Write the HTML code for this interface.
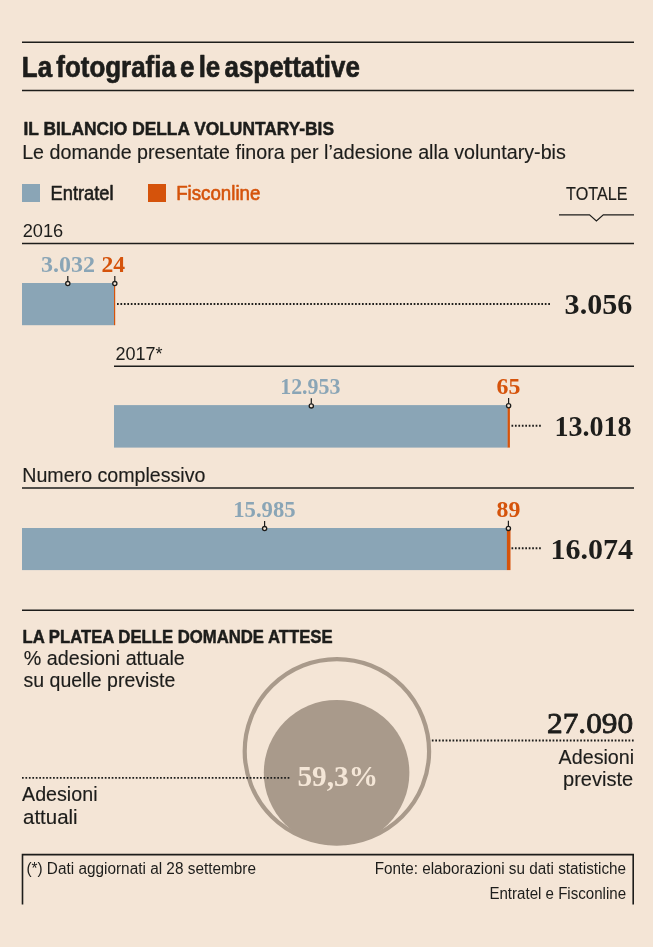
<!DOCTYPE html>
<html lang="it"><head><meta charset="utf-8"><title>La fotografia e le aspettative</title>
<style>
html,body{margin:0;padding:0;background:#f4e5d6;}
body{width:653px;height:947px;overflow:hidden;font-family:"Liberation Sans",sans-serif;}
#wrap{width:653px;height:947px;will-change:transform}
svg{display:block}
text{white-space:pre}
.ln{stroke:#1d1d1b;stroke-width:1.5;fill:none}
.dot{stroke:#1d1d1b;stroke-width:1.9;stroke-dasharray:1.7 1.75;fill:none}
.mk{stroke:#1d1d1b;stroke-width:1.3;fill:#f4e5d6}
</style></head><body>
<div id="wrap">
<svg width="653" height="947" viewBox="0 0 653 947">
<rect x="0" y="0" width="653" height="947" fill="#f4e5d6"/>

<line class="ln" x1="22" y1="42.3" x2="634" y2="42.3"/>
<line class="ln" x1="22" y1="90.5" x2="634" y2="90.5"/>
<line class="ln" x1="22" y1="243.6" x2="634" y2="243.6"/>
<line class="ln" x1="114" y1="366.3" x2="634" y2="366.3"/>
<line class="ln" x1="22" y1="488.1" x2="634" y2="488.1"/>
<line class="ln" x1="22" y1="610.2" x2="634" y2="610.2"/>
<path class="ln" style="stroke-width:1.2" d="M559 214.9 H589.5 L596.4 221 L603.3 214.9 H634"/>
<rect x="22" y="184" width="18" height="18" fill="#8aa5b6"/>
<rect x="148" y="184" width="18" height="18" fill="#d5530b"/>
<rect x="22" y="283" width="92.2" height="42.2" fill="#8aa5b6"/>
<rect x="114" y="283" width="1.2" height="42.2" fill="#d5530b"/>
<rect x="114" y="405.1" width="393.8" height="42.5" fill="#8aa5b6"/>
<rect x="507.6" y="405.1" width="2.3" height="42.5" fill="#d5530b"/>
<rect x="22" y="528" width="485" height="42.1" fill="#8aa5b6"/>
<rect x="506.9" y="528" width="3.6" height="42.1" fill="#d5530b"/>
<line class="dot" x1="117" y1="304" x2="551.5" y2="304"/>
<line class="dot" x1="511.5" y1="425.8" x2="542.5" y2="425.8"/>
<line class="dot" x1="511.5" y1="548.3" x2="542.5" y2="548.3"/>
<line class="dot" x1="428.4" y1="740.5" x2="634" y2="740.5"/>
<line class="ln" style="stroke-width:1.2" x1="67.8" y1="276.0" x2="67.8" y2="281.6"/><circle class="mk" cx="67.8" cy="283.6" r="2.1"/>
<line class="ln" style="stroke-width:1.2" x1="114.8" y1="276.0" x2="114.8" y2="281.6"/><circle class="mk" cx="114.8" cy="283.6" r="2.1"/>
<line class="ln" style="stroke-width:1.2" x1="311.3" y1="398.29999999999995" x2="311.3" y2="403.9"/><circle class="mk" cx="311.3" cy="405.9" r="2.1"/>
<line class="ln" style="stroke-width:1.2" x1="508.6" y1="398.09999999999997" x2="508.6" y2="403.7"/><circle class="mk" cx="508.6" cy="405.7" r="2.1"/>
<line class="ln" style="stroke-width:1.2" x1="264.6" y1="521.0" x2="264.6" y2="526.6"/><circle class="mk" cx="264.6" cy="528.6" r="2.1"/>
<line class="ln" style="stroke-width:1.2" x1="508.4" y1="520.8" x2="508.4" y2="526.4"/><circle class="mk" cx="508.4" cy="528.4" r="2.1"/>
<circle cx="336.9" cy="751.3" r="92.2" fill="none" stroke="#a99a8b" stroke-width="4.2"/>
<circle cx="336.6" cy="772.7" r="72.8" fill="#a99a8b"/>
<line class="dot" x1="22" y1="777.9" x2="290.5" y2="777.9"/>
<path class="ln" style="stroke-width:1.6" d="M22.5 904.6 V854.6 H633.2 V904.4"/>
<text id="title" x="21.84" y="77.20" font-family='"Liberation Sans", sans-serif' font-size="29.50" font-weight="bold" fill="#1d1d1b" stroke="#1d1d1b" stroke-width="0.7" stroke-linejoin="round" word-spacing="-3.4" textLength="338.06" lengthAdjust="spacingAndGlyphs">La fotografia e le aspettative</text>
<text id="h1" x="23.50" y="135.30" font-family='"Liberation Sans", sans-serif' font-size="18.00" font-weight="bold" fill="#1d1d1b" stroke="#1d1d1b" stroke-width="0.5" stroke-linejoin="round" textLength="310.50" lengthAdjust="spacingAndGlyphs">IL BILANCIO DELLA VOLUNTARY-BIS</text>
<text id="s1" x="22.18" y="158.50" font-family='"Liberation Sans", sans-serif' font-size="19.90" font-weight="normal" fill="#1d1d1b" stroke="#1d1d1b" stroke-width="0.15" stroke-linejoin="round" textLength="543.62" lengthAdjust="spacingAndGlyphs">Le domande presentate finora per l’adesione alla voluntary-bis</text>
<text id="lg1" x="50.56" y="200.20" font-family='"Liberation Sans", sans-serif' font-size="20.00" font-weight="normal" fill="#1d1d1b" stroke="#1d1d1b" stroke-width="0.6" stroke-linejoin="round" textLength="63.06" lengthAdjust="spacingAndGlyphs">Entratel</text>
<text id="lg2" x="176.18" y="200.20" font-family='"Liberation Sans", sans-serif' font-size="20.00" font-weight="normal" fill="#d5530b" stroke="#d5530b" stroke-width="0.6" stroke-linejoin="round" textLength="84.22" lengthAdjust="spacingAndGlyphs">Fisconline</text>
<text id="tot" x="566.10" y="199.80" font-family='"Liberation Sans", sans-serif' font-size="18.70" font-weight="normal" fill="#1d1d1b" stroke="#1d1d1b" stroke-width="0.2" stroke-linejoin="round" textLength="61.34" lengthAdjust="spacingAndGlyphs">TOTALE</text>
<text id="y16" x="22.70" y="237.00" font-family='"Liberation Sans", sans-serif' font-size="18.80" font-weight="normal" fill="#1d1d1b" textLength="40.56" lengthAdjust="spacingAndGlyphs">2016</text>
<text id="n1a" x="41.02" y="271.70" font-family='"Liberation Serif", serif' font-size="22.20" font-weight="bold" fill="#8aa5b6" textLength="54.06" lengthAdjust="spacingAndGlyphs">3.032</text>
<text id="n1b" x="101.56" y="271.70" font-family='"Liberation Serif", serif' font-size="22.20" font-weight="bold" fill="#d5530b" textLength="23.64" lengthAdjust="spacingAndGlyphs">24</text>
<text id="t1" x="564.60" y="313.60" font-family='"Liberation Serif", serif' font-size="30.30" font-weight="bold" fill="#1d1d1b" textLength="67.70" lengthAdjust="spacingAndGlyphs">3.056</text>
<text id="y17" x="115.40" y="359.70" font-family='"Liberation Sans", sans-serif' font-size="18.80" font-weight="normal" fill="#1d1d1b" textLength="47.10" lengthAdjust="spacingAndGlyphs">2017*</text>
<text id="n2a" x="280.22" y="393.60" font-family='"Liberation Serif", serif' font-size="22.20" font-weight="bold" fill="#8aa5b6" textLength="60.18" lengthAdjust="spacingAndGlyphs">12.953</text>
<text id="n2b" x="496.56" y="393.90" font-family='"Liberation Serif", serif' font-size="22.20" font-weight="bold" fill="#d5530b" textLength="23.84" lengthAdjust="spacingAndGlyphs">65</text>
<text id="t2" x="554.40" y="436.40" font-family='"Liberation Serif", serif' font-size="30.30" font-weight="bold" fill="#1d1d1b" textLength="77.16" lengthAdjust="spacingAndGlyphs">13.018</text>
<text id="ync" x="22.30" y="482.00" font-family='"Liberation Sans", sans-serif' font-size="19.90" font-weight="normal" fill="#1d1d1b" stroke="#1d1d1b" stroke-width="0.15" stroke-linejoin="round" textLength="183.10" lengthAdjust="spacingAndGlyphs">Numero complessivo</text>
<text id="n3a" x="233.22" y="516.60" font-family='"Liberation Serif", serif' font-size="22.20" font-weight="bold" fill="#8aa5b6" textLength="62.34" lengthAdjust="spacingAndGlyphs">15.985</text>
<text id="n3b" x="496.56" y="516.60" font-family='"Liberation Serif", serif' font-size="22.20" font-weight="bold" fill="#d5530b" textLength="23.84" lengthAdjust="spacingAndGlyphs">89</text>
<text id="t3" x="550.60" y="559.00" font-family='"Liberation Serif", serif' font-size="30.30" font-weight="bold" fill="#1d1d1b" textLength="82.48" lengthAdjust="spacingAndGlyphs">16.074</text>
<text id="h2" x="22.56" y="642.70" font-family='"Liberation Sans", sans-serif' font-size="18.00" font-weight="bold" fill="#1d1d1b" stroke="#1d1d1b" stroke-width="0.5" stroke-linejoin="round" textLength="310.06" lengthAdjust="spacingAndGlyphs">LA PLATEA DELLE DOMANDE ATTESE</text>
<text id="s2a" x="23.80" y="664.90" font-family='"Liberation Sans", sans-serif' font-size="19.90" font-weight="normal" fill="#1d1d1b" stroke="#1d1d1b" stroke-width="0.15" stroke-linejoin="round" textLength="161.00" lengthAdjust="spacingAndGlyphs">% adesioni attuale</text>
<text id="s2b" x="23.50" y="686.70" font-family='"Liberation Sans", sans-serif' font-size="19.90" font-weight="normal" fill="#1d1d1b" stroke="#1d1d1b" stroke-width="0.15" stroke-linejoin="round" textLength="151.90" lengthAdjust="spacingAndGlyphs">su quelle previste</text>
<text id="pct" x="297.44" y="786.00" font-family='"Liberation Serif", serif' font-size="30.30" font-weight="bold" fill="#f4e6d7" textLength="80.72" lengthAdjust="spacingAndGlyphs">59,3%</text>
<text id="t4" x="547.02" y="733.00" font-family='"Liberation Serif", serif' font-size="30.00" font-weight="normal" fill="#1d1d1b" stroke="#1d1d1b" stroke-width="0.85" stroke-linejoin="round" textLength="86.18" lengthAdjust="spacingAndGlyphs">27.090</text>
<text id="r1" x="558.60" y="764.40" font-family='"Liberation Sans", sans-serif' font-size="19.60" font-weight="normal" fill="#1d1d1b" stroke="#1d1d1b" stroke-width="0.15" stroke-linejoin="round" textLength="75.56" lengthAdjust="spacingAndGlyphs">Adesioni</text>
<text id="r2" x="563.02" y="786.30" font-family='"Liberation Sans", sans-serif' font-size="19.90" font-weight="normal" fill="#1d1d1b" stroke="#1d1d1b" stroke-width="0.15" stroke-linejoin="round" textLength="70.18" lengthAdjust="spacingAndGlyphs">previste</text>
<text id="l1" x="22.02" y="800.80" font-family='"Liberation Sans", sans-serif' font-size="19.60" font-weight="normal" fill="#1d1d1b" stroke="#1d1d1b" stroke-width="0.15" stroke-linejoin="round" textLength="75.50" lengthAdjust="spacingAndGlyphs">Adesioni</text>
<text id="l2" x="23.00" y="823.80" font-family='"Liberation Sans", sans-serif' font-size="19.90" font-weight="normal" fill="#1d1d1b" stroke="#1d1d1b" stroke-width="0.15" stroke-linejoin="round" textLength="54.60" lengthAdjust="spacingAndGlyphs">attuali</text>
<text id="f1" x="26.38" y="873.70" font-family='"Liberation Sans", sans-serif' font-size="17.30" font-weight="normal" fill="#1d1d1b" textLength="229.62" lengthAdjust="spacingAndGlyphs">(*) Dati aggiornati al 28 settembre</text>
<text id="f2" x="374.66" y="873.70" font-family='"Liberation Sans", sans-serif' font-size="17.30" font-weight="normal" fill="#1d1d1b" textLength="251.42" lengthAdjust="spacingAndGlyphs">Fonte: elaborazioni su dati statistiche</text>
<text id="f3" x="489.38" y="898.70" font-family='"Liberation Sans", sans-serif' font-size="17.30" font-weight="normal" fill="#1d1d1b" textLength="136.70" lengthAdjust="spacingAndGlyphs">Entratel e Fisconline</text>
</svg>
</div></body></html>
